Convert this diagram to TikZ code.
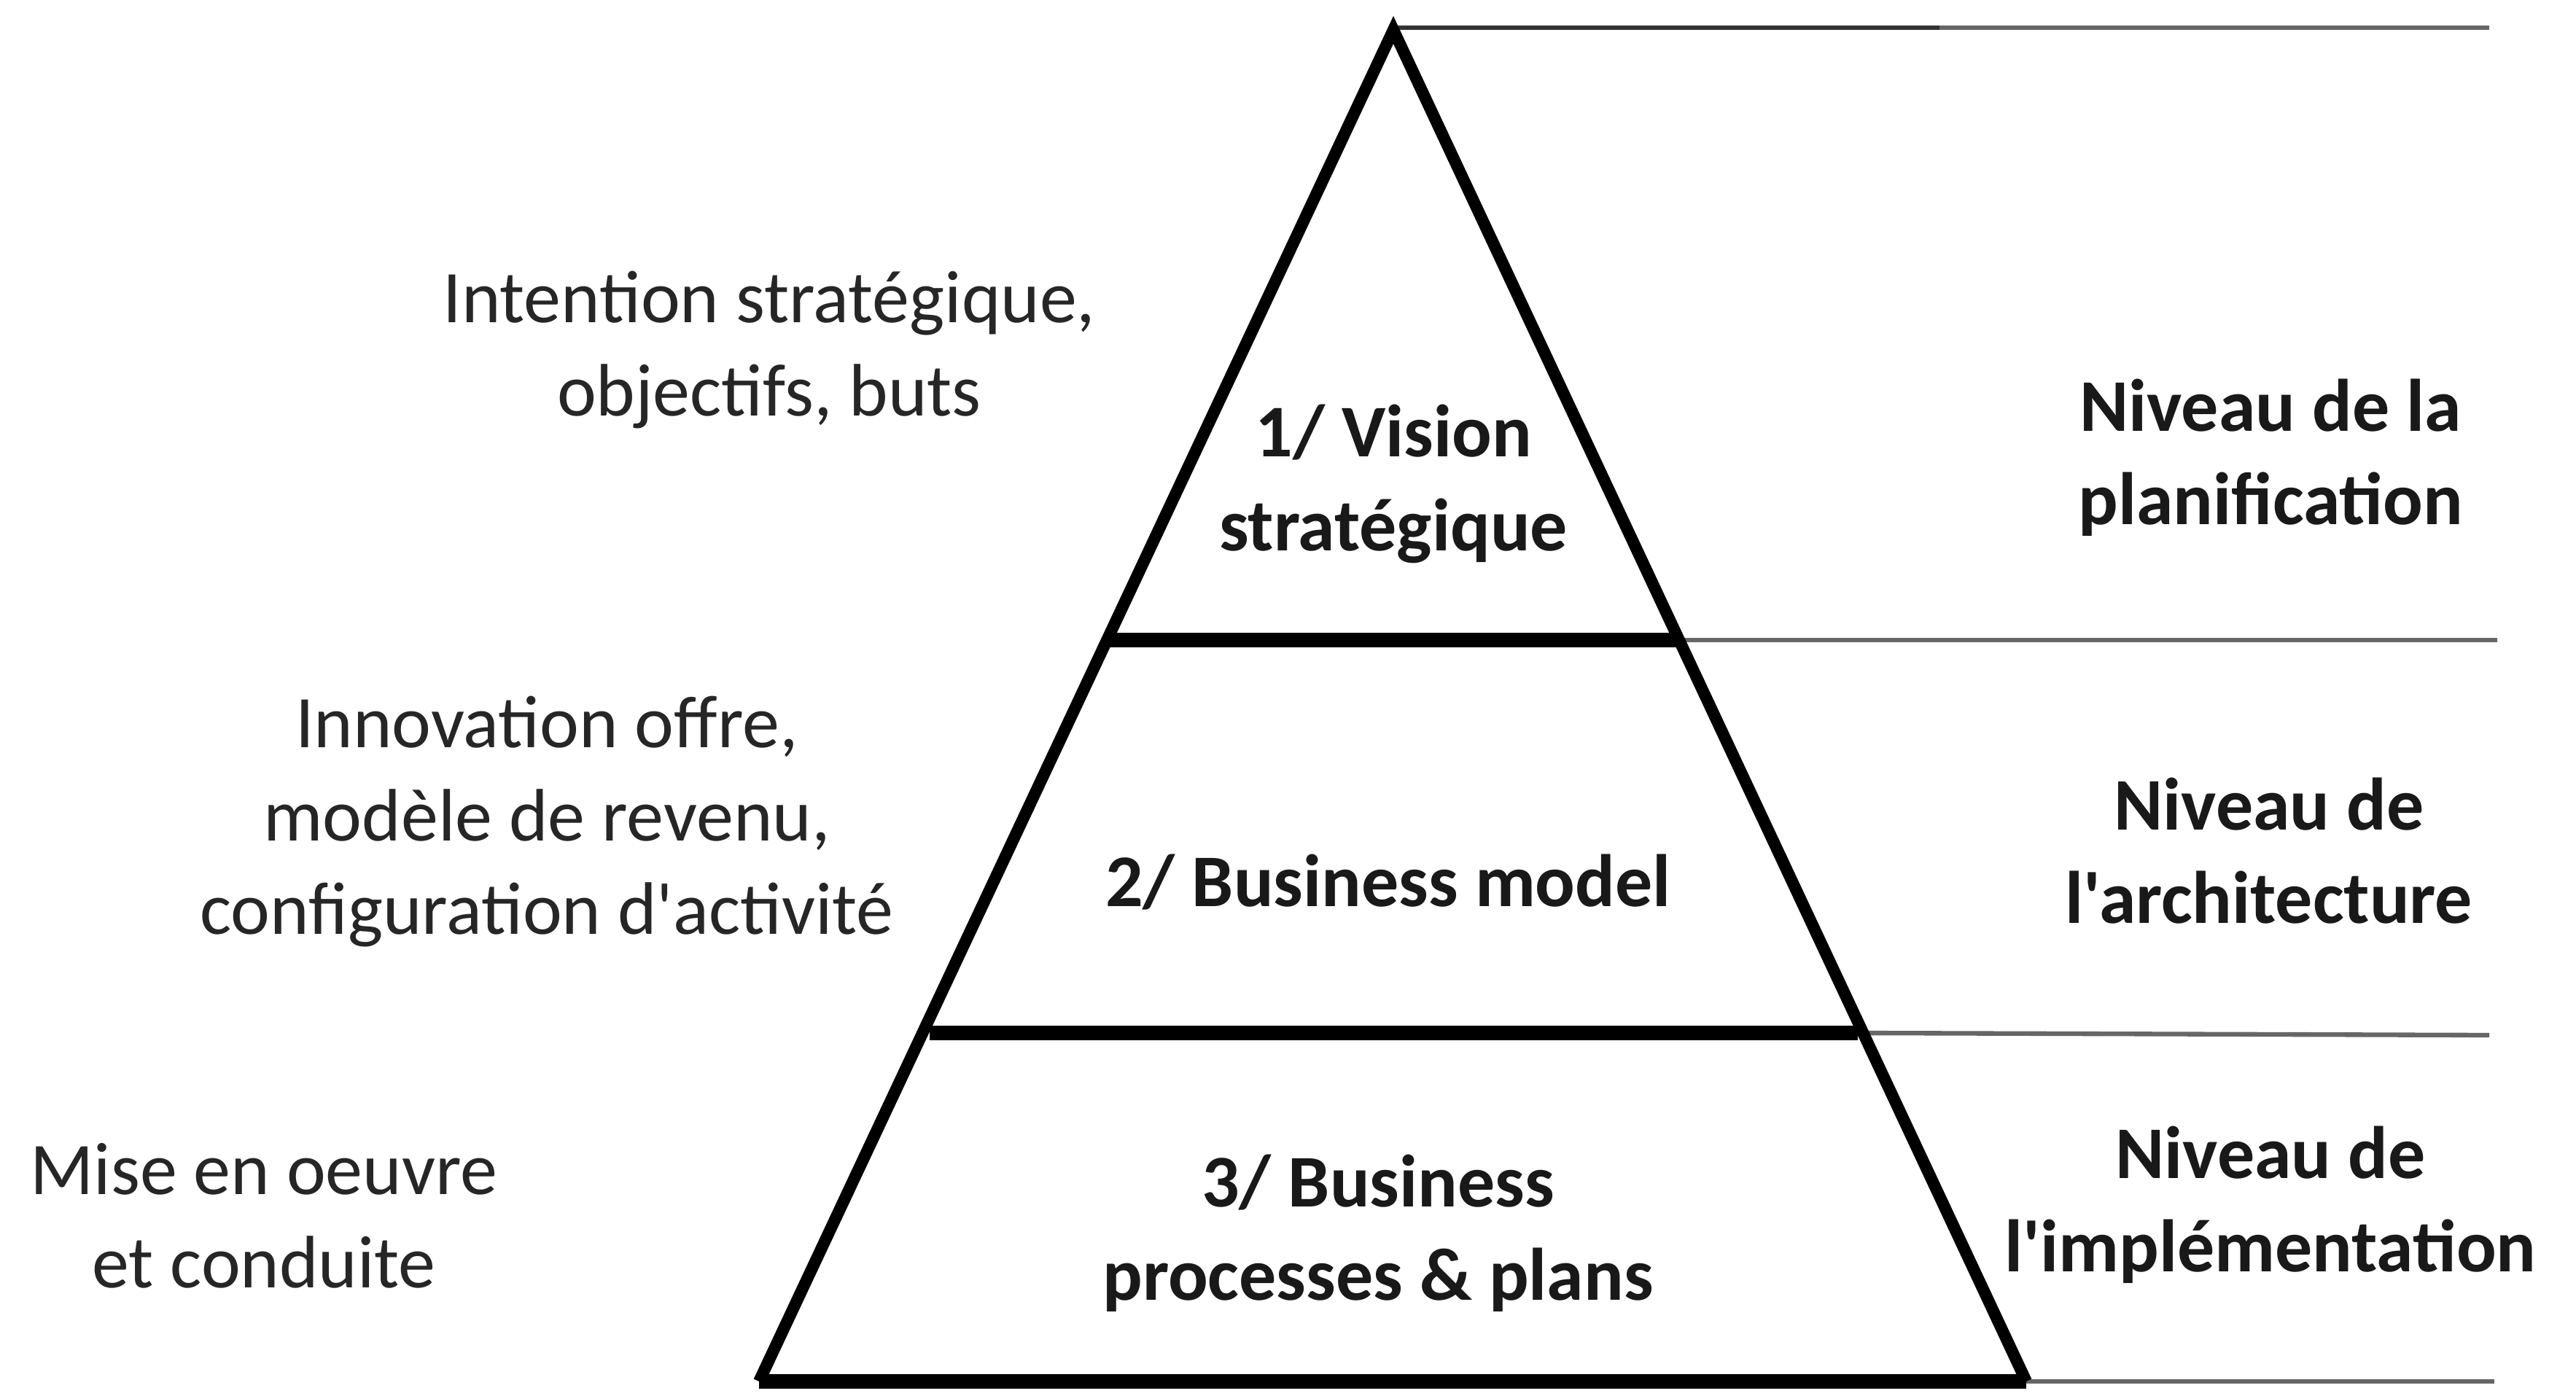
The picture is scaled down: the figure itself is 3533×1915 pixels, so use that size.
\documentclass[tikz,border=0pt]{standalone}
\usepackage{fontspec}
\setmainfont{Carlito}[Ligatures=TeXOff]
\begin{document}
\begin{tikzpicture}[x=0.01cm,y=-0.01cm,
  side/.style={line width=4.6pt,line join=miter,black},
  divider/.style={line width=5.6pt,black},
  guide/.style={line width=1.8pt,black!60},
  lefttxt/.style={font=\fontsize{29}{36.5}\selectfont,text=black!85,align=center,inner sep=0pt},
  midtxt/.style={font=\fontsize{29}{36.5}\selectfont\bfseries,text=black!90,align=center,inner sep=0pt},
  righttxt/.style={font=\fontsize{29}{36.5}\selectfont\bfseries,text=black!90,align=center,inner sep=0pt}]
\useasboundingbox (0,0) rectangle (3533,1915);
\fill[white] (0,0) rectangle (3533,1915);
% pyramid corners
\coordinate (apex) at (1911,41);
\coordinate (bl) at (1041,1895);
\coordinate (br) at (2779,1895);
% divider ends
\coordinate (d1l) at (1518,878);
\coordinate (d1r) at (2300,878);
\coordinate (d2l) at (1275,1417);
\coordinate (d2r) at (2548,1417);
% guide ends
\coordinate (g0) at (3414,38);
\coordinate (gm) at (2660,38);
\coordinate (g1) at (3425,878);
\coordinate (g2) at (3414,1420);
\coordinate (g3) at (3421,1895);
% guide lines
\draw[line width=1.8pt,black!80] (apex |- g0) -- (gm);
\draw[guide] (gm) -- (g0);
\draw[guide] (d1r) -- (g1);
\draw[guide] (d2r) -- (g2);
\draw[guide] (br) -- (g3);
% pyramid
\draw[side] (bl) -- (apex) -- (br);
\draw[line width=5.8pt] (bl) -- (br);
\draw[divider] (d1l) -- (d1r);
\draw[divider] (d2l) -- (d2r);
% left texts
\node[lefttxt] (l1) at (1055,480) {Intention stratégique,\\objectifs, buts};
\node[lefttxt] (l2) at (750,1127) {Innovation offre,\\modèle de revenu,\\configuration d'activité};
\node[lefttxt] (l3) at (362,1668) {Mise en oeuvre\\et conduite};
% middle texts
\node[midtxt] (m1) at (1911,664) {1/ Vision\\stratégique};
\node[midtxt] (m2) at (1904,1210) {2/ Business model};
\node[midtxt] (m3) at (1890,1692) {3/ Business\\processes \& plans};
% right texts
\node[righttxt] (r1) at (3114,628) {Niveau de la\\planification};
\node[righttxt] (r2) at (3112,1167) {Niveau de\\l'architecture};
\node[righttxt] (r3) at (3114,1653) {Niveau de\\l'implémentation};
\end{tikzpicture}
\end{document}
